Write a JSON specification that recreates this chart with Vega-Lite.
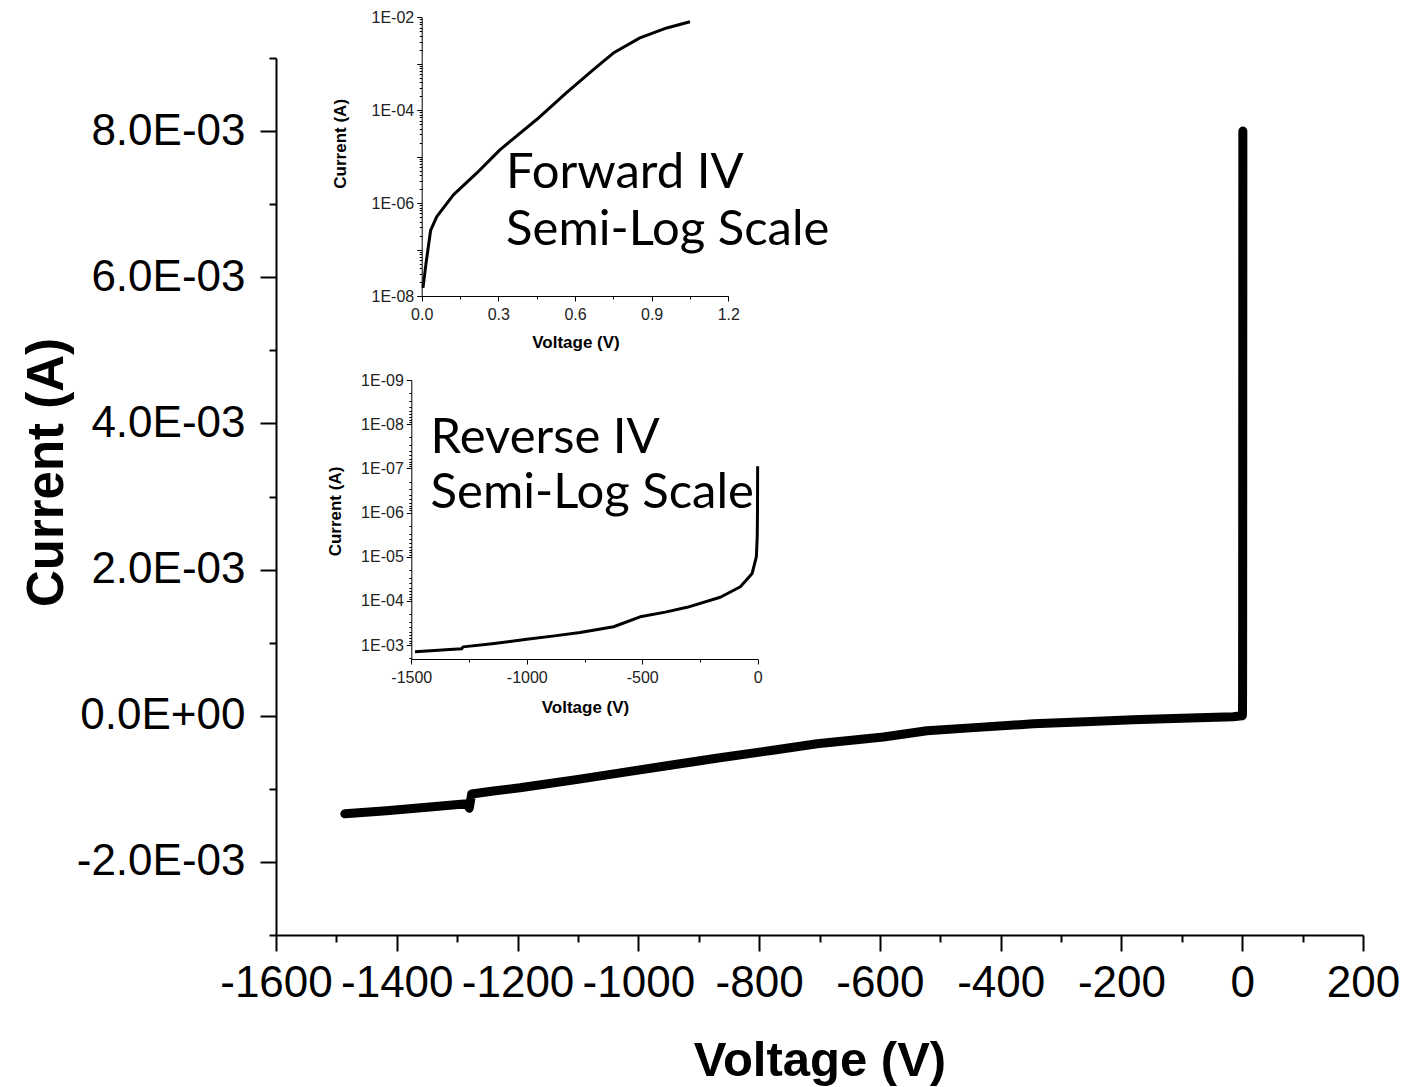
{
  "$schema": "https://vega.github.io/schema/vega-lite/v6.json",
  "width": 1087,
  "height": 877,
  "autosize": {"type": "none"},
  "padding": {"left": 276, "top": 58, "right": 53, "bottom": 152},
  "background": "white",
  "config": {
    "view": {"stroke": null},
    "axis": {
      "grid": false,
      "labelFont": "Liberation Sans",
      "titleFont": "Liberation Sans",
      "domainColor": "black",
      "tickColor": "black",
      "labelColor": "black",
      "titleColor": "black",
      "labelOverlap": false,
      "labelBound": false,
      "labelFlush": false
    }
  },
  "datasets": {
    "main": [
      {"V": -1486, "I": -0.001342},
      {"V": -1417, "I": -0.0013},
      {"V": -1350, "I": -0.001252},
      {"V": -1284, "I": -0.001205},
      {"V": -1280, "I": -0.001265},
      {"V": -1276, "I": -0.00107},
      {"V": -1240, "I": -0.00103},
      {"V": -1196, "I": -0.000986},
      {"V": -1100, "I": -0.00087},
      {"V": -1030, "I": -0.000781},
      {"V": -950, "I": -0.00068},
      {"V": -865, "I": -0.000575},
      {"V": -780, "I": -0.000475},
      {"V": -704, "I": -0.000384},
      {"V": -594, "I": -0.00029},
      {"V": -522, "I": -0.000205},
      {"V": -450, "I": -0.000166},
      {"V": -346, "I": -0.00011},
      {"V": -260, "I": -0.000081},
      {"V": -181, "I": -0.000055},
      {"V": -100, "I": -0.000035},
      {"V": -15, "I": -0.000014},
      {"V": -0.5, "I": -0.0000001},
      {"V": 0.005, "I": 1.5e-8},
      {"V": 0.017, "I": 5.1e-8},
      {"V": 0.035, "I": 2.6e-7},
      {"V": 0.059, "I": 5.1e-7},
      {"V": 0.124, "I": 1.5e-6},
      {"V": 0.215, "I": 4.4e-6},
      {"V": 0.306, "I": 1.4e-5},
      {"V": 0.45, "I": 6.3e-5},
      {"V": 0.567, "I": 2.4e-4},
      {"V": 0.672, "I": 7.5e-4},
      {"V": 0.75, "I": 1.7e-3},
      {"V": 0.854, "I": 3.6e-3},
      {"V": 0.959, "I": 5.9e-3},
      {"V": 1.05, "I": 8.0e-3}
    ],
    "revlog": [
      {"V": -1484, "I": 1.41e-3},
      {"V": -1400, "I": 1.33e-3},
      {"V": -1282, "I": 1.22e-3},
      {"V": -1276, "I": 1.1e-3},
      {"V": -1150, "I": 9.3e-4},
      {"V": -1000, "I": 7.4e-4},
      {"V": -880, "I": 6.2e-4},
      {"V": -769, "I": 5.2e-4},
      {"V": -624, "I": 3.85e-4},
      {"V": -509, "I": 2.3e-4},
      {"V": -400, "I": 1.8e-4},
      {"V": -306, "I": 1.4e-4},
      {"V": -162, "I": 8.3e-5},
      {"V": -75, "I": 4.8e-5},
      {"V": -24, "I": 2.4e-5},
      {"V": -5.7, "I": 1.0e-5},
      {"V": -2, "I": 3.5e-6},
      {"V": -0.8, "I": 8e-7},
      {"V": -0.3, "I": 9e-8}
    ],
    "notes": [
      {"V": -1219, "I": 0.007219, "label": "Forward IV", "plot": "forward"},
      {"V": -1219, "I": 0.006438, "label": "Semi-Log Scale", "plot": "forward"},
      {"V": -1344, "I": 0.003589, "label": "Reverse IV", "plot": "reverse"},
      {"V": -1344, "I": 0.002836, "label": "Semi-Log Scale", "plot": "reverse"}
    ]
  },
  "layer": [
    {
      "data": {"name": "main"},
      "mark": {"type": "line", "color": "black", "strokeWidth": 9, "strokeCap": "round", "strokeJoin": "round"},
      "encoding": {
        "x": {
          "field": "V", "type": "quantitative",
          "scale": {"domain": [-1600, 200], "nice": false, "zero": false},
          "axis": {
            "orient": "bottom",
            "title": "Voltage (V)",
            "titleFontSize": 49,
            "titleFontWeight": "bold",
            "titleBaseline": "alphabetic",
            "titleAlign": "center",
            "titleX": 543.5,
            "titleY": 140,
            "values": [-1600, -1500, -1400, -1300, -1200, -1100, -1000, -900, -800, -700, -600, -500, -400, -300, -200, -100, 0, 100, 200],
            "labelExpr": "round(datum.value) % 200 == 0 ? '' + datum.value : ''",
            "labelFontSize": 44,
            "labelPadding": 10,
            "tickSize": {"condition": {"test": "round(datum.value) % 200 == 0", "value": 16}, "value": 7},
            "tickWidth": 2,
            "domainWidth": 2
          }
        },
        "y": {
          "field": "I", "type": "quantitative",
          "scale": {"domain": [-0.003, 0.009], "nice": false, "zero": false},
          "axis": {
            "orient": "left",
            "title": "Current (A)",
            "titleFontSize": 51,
            "titleFontWeight": "bold",
            "titleAngle": -90,
            "titleBaseline": "alphabetic",
            "titleAlign": "center",
            "titleX": -214,
            "titleY": 414,
            "values": [-0.003, -0.002, -0.001, 0, 0.001, 0.002, 0.003, 0.004, 0.005, 0.006, 0.007, 0.008, 0.009],
            "labelExpr": "round(datum.value*1000) % 2 != 0 ? '' : (round(datum.value*1000) == 0 ? '0.0E+00' : (datum.value < 0 ? '-' : '') + format(abs(datum.value)*1000, '.1f') + 'E-03')",
            "labelFontSize": 44,
            "labelPadding": 15,
            "tickSize": {"condition": {"test": "round(datum.value*1000) % 2 == 0", "value": 16}, "value": 7},
            "tickWidth": 2,
            "domainWidth": 2
          }
        }
      }
    },
    {
      "data": {"name": "notes"},
      "transform": [{"filter": {"field": "plot", "equal": "forward"}}],
      "mark": {"type": "text", "font": "Lato", "fontSize": 49, "align": "left", "baseline": "alphabetic", "color": "black"},
      "encoding": {
        "x": {"field": "V", "type": "quantitative", "scale": {"domain": [-1600, 200], "nice": false, "zero": false}, "axis": null},
        "y": {"field": "I", "type": "quantitative", "scale": {"domain": [-0.003, 0.009], "nice": false, "zero": false}, "axis": null},
        "text": {"field": "label"}
      }
    },
    {
      "data": {"name": "notes"},
      "transform": [{"filter": {"field": "plot", "equal": "reverse"}}],
      "mark": {"type": "text", "font": "Lato", "fontSize": 49, "align": "left", "baseline": "alphabetic", "color": "black"},
      "encoding": {
        "x": {"field": "V", "type": "quantitative", "scale": {"domain": [-1600, 200], "nice": false, "zero": false}, "axis": null},
        "y": {"field": "I", "type": "quantitative", "scale": {"domain": [-0.003, 0.009], "nice": false, "zero": false}, "axis": null},
        "text": {"field": "label"}
      }
    },
    {
      "data": {"name": "main"},
      "transform": [{"filter": {"field": "V", "gte": 0}}],
      "mark": {"type": "line", "color": "black", "strokeWidth": 3, "strokeJoin": "round"},
      "encoding": {
        "x": {
          "field": "V", "type": "quantitative",
          "scale": {"domain": [0, 1.2], "range": [145.7, 452.3], "nice": false, "zero": false},
          "axis": {
            "orient": "bottom",
            "offset": -639,
            "title": "Voltage (V)",
            "titleFontSize": 17,
            "titleFontWeight": "bold",
            "titleBaseline": "alphabetic",
            "titleAlign": "center",
            "titleX": 299.5,
            "titleY": 51,
            "values": [0, 0.15, 0.3, 0.45, 0.6, 0.75, 0.9, 1.05, 1.2],
            "labelExpr": "round(datum.value*100) % 30 == 0 ? format(datum.value, '.1f') : ''",
            "labelFontSize": 16,
            "labelColor": "#222",
            "labelPadding": 5,
            "tickSize": {"condition": {"test": "round(datum.value*100) % 30 == 0", "value": 5}, "value": 3},
            "tickWidth": 1,
            "domainWidth": 1
          }
        },
        "y": {
          "field": "I", "type": "quantitative",
          "scale": {"type": "log", "domain": [1e-8, 1e-2], "range": [238, -40.7], "nice": false},
          "axis": {
            "orient": "left",
            "offset": -145.7,
            "title": "Current (A)",
            "titleFontSize": 17,
            "titleFontWeight": "bold",
            "titleAngle": -90,
            "titleBaseline": "alphabetic",
            "titleAlign": "center",
            "titleX": -76.7,
            "titleY": 85.3,
            "values": [1e-8, 2e-8, 3e-8, 4e-8, 5e-8, 6e-8, 7e-8, 8e-8, 9e-8, 1e-7, 2e-7, 3e-7, 4e-7, 5e-7, 6e-7, 7e-7, 8e-7, 9e-7, 1e-6, 2e-6, 3e-6, 4e-6, 5e-6, 6e-6, 7e-6, 8e-6, 9e-6, 1e-5, 2e-5, 3e-5, 4e-5, 5e-5, 6e-5, 7e-5, 8e-5, 9e-5, 1e-4, 2e-4, 3e-4, 4e-4, 5e-4, 6e-4, 7e-4, 8e-4, 9e-4, 1e-3, 2e-3, 3e-3, 4e-3, 5e-3, 6e-3, 7e-3, 8e-3, 9e-3, 1e-2],
            "labelExpr": "abs(log(datum.value)/LN10 - round(log(datum.value)/LN10)) < 0.001 && round(log(datum.value)/LN10) % 2 == 0 ? '1E-0' + (-round(log(datum.value)/LN10)) : ''",
            "labelFontSize": 16,
            "labelColor": "#222",
            "labelPadding": 3,
            "tickSize": {"condition": {"test": "abs(log(datum.value)/LN10 - round(log(datum.value)/LN10)) < 0.001", "value": 5}, "value": 2.5},
            "tickWidth": 1,
            "domainWidth": 1
          }
        }
      }
    },
    {
      "data": {"name": "revlog"},
      "mark": {"type": "line", "color": "black", "strokeWidth": 3, "strokeJoin": "round"},
      "encoding": {
        "x": {
          "field": "V", "type": "quantitative",
          "scale": {"domain": [-1500, 0], "range": [135.3, 481.7], "nice": false, "zero": false},
          "axis": {
            "orient": "bottom",
            "offset": -276,
            "title": "Voltage (V)",
            "titleFontSize": 17,
            "titleFontWeight": "bold",
            "titleBaseline": "alphabetic",
            "titleAlign": "center",
            "titleX": 309,
            "titleY": 53,
            "values": [-1500, -1250, -1000, -750, -500, -250, 0],
            "labelExpr": "round(datum.value) % 500 == 0 ? '' + datum.value : ''",
            "labelFontSize": 16,
            "labelColor": "#222",
            "labelPadding": 5,
            "tickSize": {"condition": {"test": "round(datum.value) % 500 == 0", "value": 5}, "value": 3},
            "tickWidth": 1,
            "domainWidth": 1
          }
        },
        "y": {
          "field": "I", "type": "quantitative",
          "scale": {"type": "log", "domain": [1e-9, 2.07e-3], "range": [322, 601], "nice": false},
          "axis": {
            "orient": "left",
            "offset": -135.3,
            "title": "Current (A)",
            "titleFontSize": 17,
            "titleFontWeight": "bold",
            "titleAngle": -90,
            "titleBaseline": "alphabetic",
            "titleAlign": "center",
            "titleX": -71.3,
            "titleY": 453,
            "values": [1e-9, 2e-9, 3e-9, 4e-9, 5e-9, 6e-9, 7e-9, 8e-9, 9e-9, 1e-8, 2e-8, 3e-8, 4e-8, 5e-8, 6e-8, 7e-8, 8e-8, 9e-8, 1e-7, 2e-7, 3e-7, 4e-7, 5e-7, 6e-7, 7e-7, 8e-7, 9e-7, 1e-6, 2e-6, 3e-6, 4e-6, 5e-6, 6e-6, 7e-6, 8e-6, 9e-6, 1e-5, 2e-5, 3e-5, 4e-5, 5e-5, 6e-5, 7e-5, 8e-5, 9e-5, 1e-4, 2e-4, 3e-4, 4e-4, 5e-4, 6e-4, 7e-4, 8e-4, 9e-4, 1e-3, 2e-3],
            "labelExpr": "abs(log(datum.value)/LN10 - round(log(datum.value)/LN10)) < 0.001 ? '1E-0' + (-round(log(datum.value)/LN10)) : ''",
            "labelFontSize": 16,
            "labelColor": "#222",
            "labelPadding": 3,
            "tickSize": {"condition": {"test": "abs(log(datum.value)/LN10 - round(log(datum.value)/LN10)) < 0.001", "value": 5}, "value": 2.5},
            "tickWidth": 1,
            "domainWidth": 1
          }
        }
      }
    }
  ],
  "resolve": {"scale": {"x": "independent", "y": "independent"}, "axis": {"x": "independent", "y": "independent"}}
}
